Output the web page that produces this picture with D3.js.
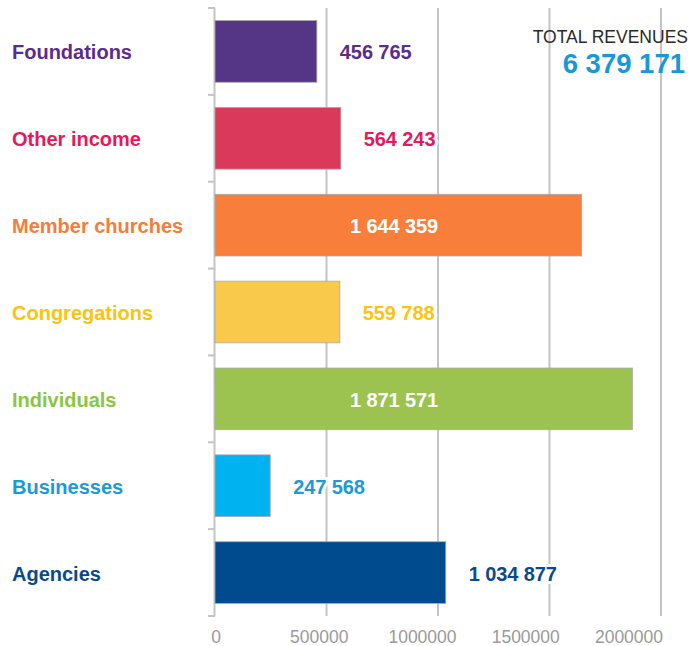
<!DOCTYPE html>
<html>
<head>
<meta charset="utf-8">
<script src="https://cdn.jsdelivr.net/npm/d3@7"></script>
<style>
  body { margin: 0; background: #fff; }
  svg { display: block; font-family: "Liberation Sans", Arial, sans-serif; }
</style>
</head>
<body>
<svg id="chart" width="691" height="646"></svg>
<script>
var categories = ['Foundations', 'Other income', 'Member churches', 'Congregations', 'Individuals', 'Businesses', 'Agencies']
var values = [456765, 564243, 1644359, 559788, 1871571, 247568, 1034877]
var xTicks = [0, 500000, 1000000, 1500000, 2000000]
var totalLabel = 'TOTAL REVENUES'
var total = 6379171

var barColors = ['#553586', '#db395a', '#f77f3b', '#f9c94b', '#9cc250', '#00b2ef', '#004b8d']
var textColors = ['#5b2c8f', '#e6195a', '#f47c3c', '#fdc30f', '#8cc540', '#1a9ad6', '#0a4a8c']

var data = categories.map(function (c, i) { return { name: c, value: values[i] } })

var svg = d3.select('#chart')
var plotLeft = 215, plotRight = 661, plotTop = 8, plotBottom = 616

var x = d3.scaleLinear().domain([0, 2000000]).range([plotLeft, plotRight])
// tick labels in the original sit a bit left of their gridlines
var xLabel = d3.scaleLinear().domain([0, 2000000]).range([plotLeft + 1, plotRight - 32])
var y = d3.scaleBand().domain(categories).range([plotTop, plotBottom])
  .paddingInner(0.29).paddingOuter(0.145)
var barColor = d3.scaleOrdinal().domain(categories).range(barColors)
var textColor = d3.scaleOrdinal().domain(categories).range(textColors)

// numbers like "1 034 877"
var fmt = function (v) { return d3.format(',')(v).replace(/,/g, ' ') }

// grid
svg.append('g').selectAll('line')
  .data(xTicks.slice(1))
  .enter().append('line')
  .attr('x1', function (d) { return x(d) })
  .attr('x2', function (d) { return x(d) })
  .attr('y1', plotTop)
  .attr('y2', plotBottom)
  .attr('stroke', '#c4c4c4')
  .attr('stroke-width', 2)

// left axis with ticks at band edges
var edges = d3.range(categories.length + 1).map(function (i) { return plotTop + i * y.step() })
svg.append('line')
  .attr('x1', plotLeft - 0.5).attr('x2', plotLeft - 0.5)
  .attr('y1', plotTop).attr('y2', plotBottom)
  .attr('stroke', '#c4c4c4').attr('stroke-width', 2)
svg.append('g').selectAll('line')
  .data(edges)
  .enter().append('line')
  .attr('x1', plotLeft - 7).attr('x2', plotLeft)
  .attr('y1', function (d) { return d }).attr('y2', function (d) { return d })
  .attr('stroke', '#c4c4c4').attr('stroke-width', 2)

// x tick labels
svg.append('g').selectAll('text')
  .data(xTicks)
  .enter().append('text')
  .attr('x', function (d) { return xLabel(d) })
  .attr('y', 643)
  .attr('text-anchor', 'middle')
  .attr('font-size', '17.5px')
  .attr('fill', '#9a9a9a')
  .text(function (d) { return d })

// bars
svg.append('g').selectAll('rect')
  .data(data)
  .enter().append('rect')
  .attr('x', x(0))
  .attr('y', function (d) { return y(d.name) })
  .attr('width', function (d) { return x(d.value) - x(0) })
  .attr('height', y.bandwidth())
  .attr('fill', function (d) { return barColor(d.name) })
  .attr('stroke', '#a8a8a8')
  .attr('stroke-width', 0.8)

// category labels
svg.append('g').selectAll('text')
  .data(data)
  .enter().append('text')
  .attr('x', 12)
  .attr('y', function (d) { return y(d.name) + y.bandwidth() / 2 })
  .attr('dy', '0.4em')
  .attr('font-size', '20px')
  .attr('font-weight', 'bold')
  .attr('fill', function (d) { return textColor(d.name) })
  .text(function (d) { return d.name })

// value labels: inside long bars, after short ones
var inside = function (d) { return d.value > 1500000 }
svg.append('g').selectAll('text')
  .data(data)
  .enter().append('text')
  .attr('x', function (d) { return inside(d) ? x(1000000) : x(d.value) + 23 })
  .attr('y', function (d) { return y(d.name) + y.bandwidth() / 2 })
  .attr('dy', '0.4em')
  .attr('text-anchor', function (d) { return inside(d) ? 'end' : 'start' })
  .attr('font-size', '20px')
  .attr('font-weight', 'bold')
  .attr('letter-spacing', '-0.1px')
  .attr('fill', function (d) { return inside(d) ? '#fff' : textColor(d.name) })
  .attr('stroke', function (d) { return inside(d) ? 'none' : '#fff' })
  .attr('stroke-width', 6)
  .attr('paint-order', 'stroke')
  .text(function (d) { return fmt(d.value) })

// total
svg.append('text')
  .attr('x', 688).attr('y', 43)
  .attr('text-anchor', 'end')
  .attr('font-size', '17.5px')
  .attr('fill', '#2a2a2a')
  .text(totalLabel)
svg.append('text')
  .attr('x', 685).attr('y', 73)
  .attr('text-anchor', 'end')
  .attr('font-size', '27.5px')
  .attr('font-weight', 'bold')
  .attr('fill', '#1899d6')
  .text(fmt(total))
</script>
</body>
</html>
